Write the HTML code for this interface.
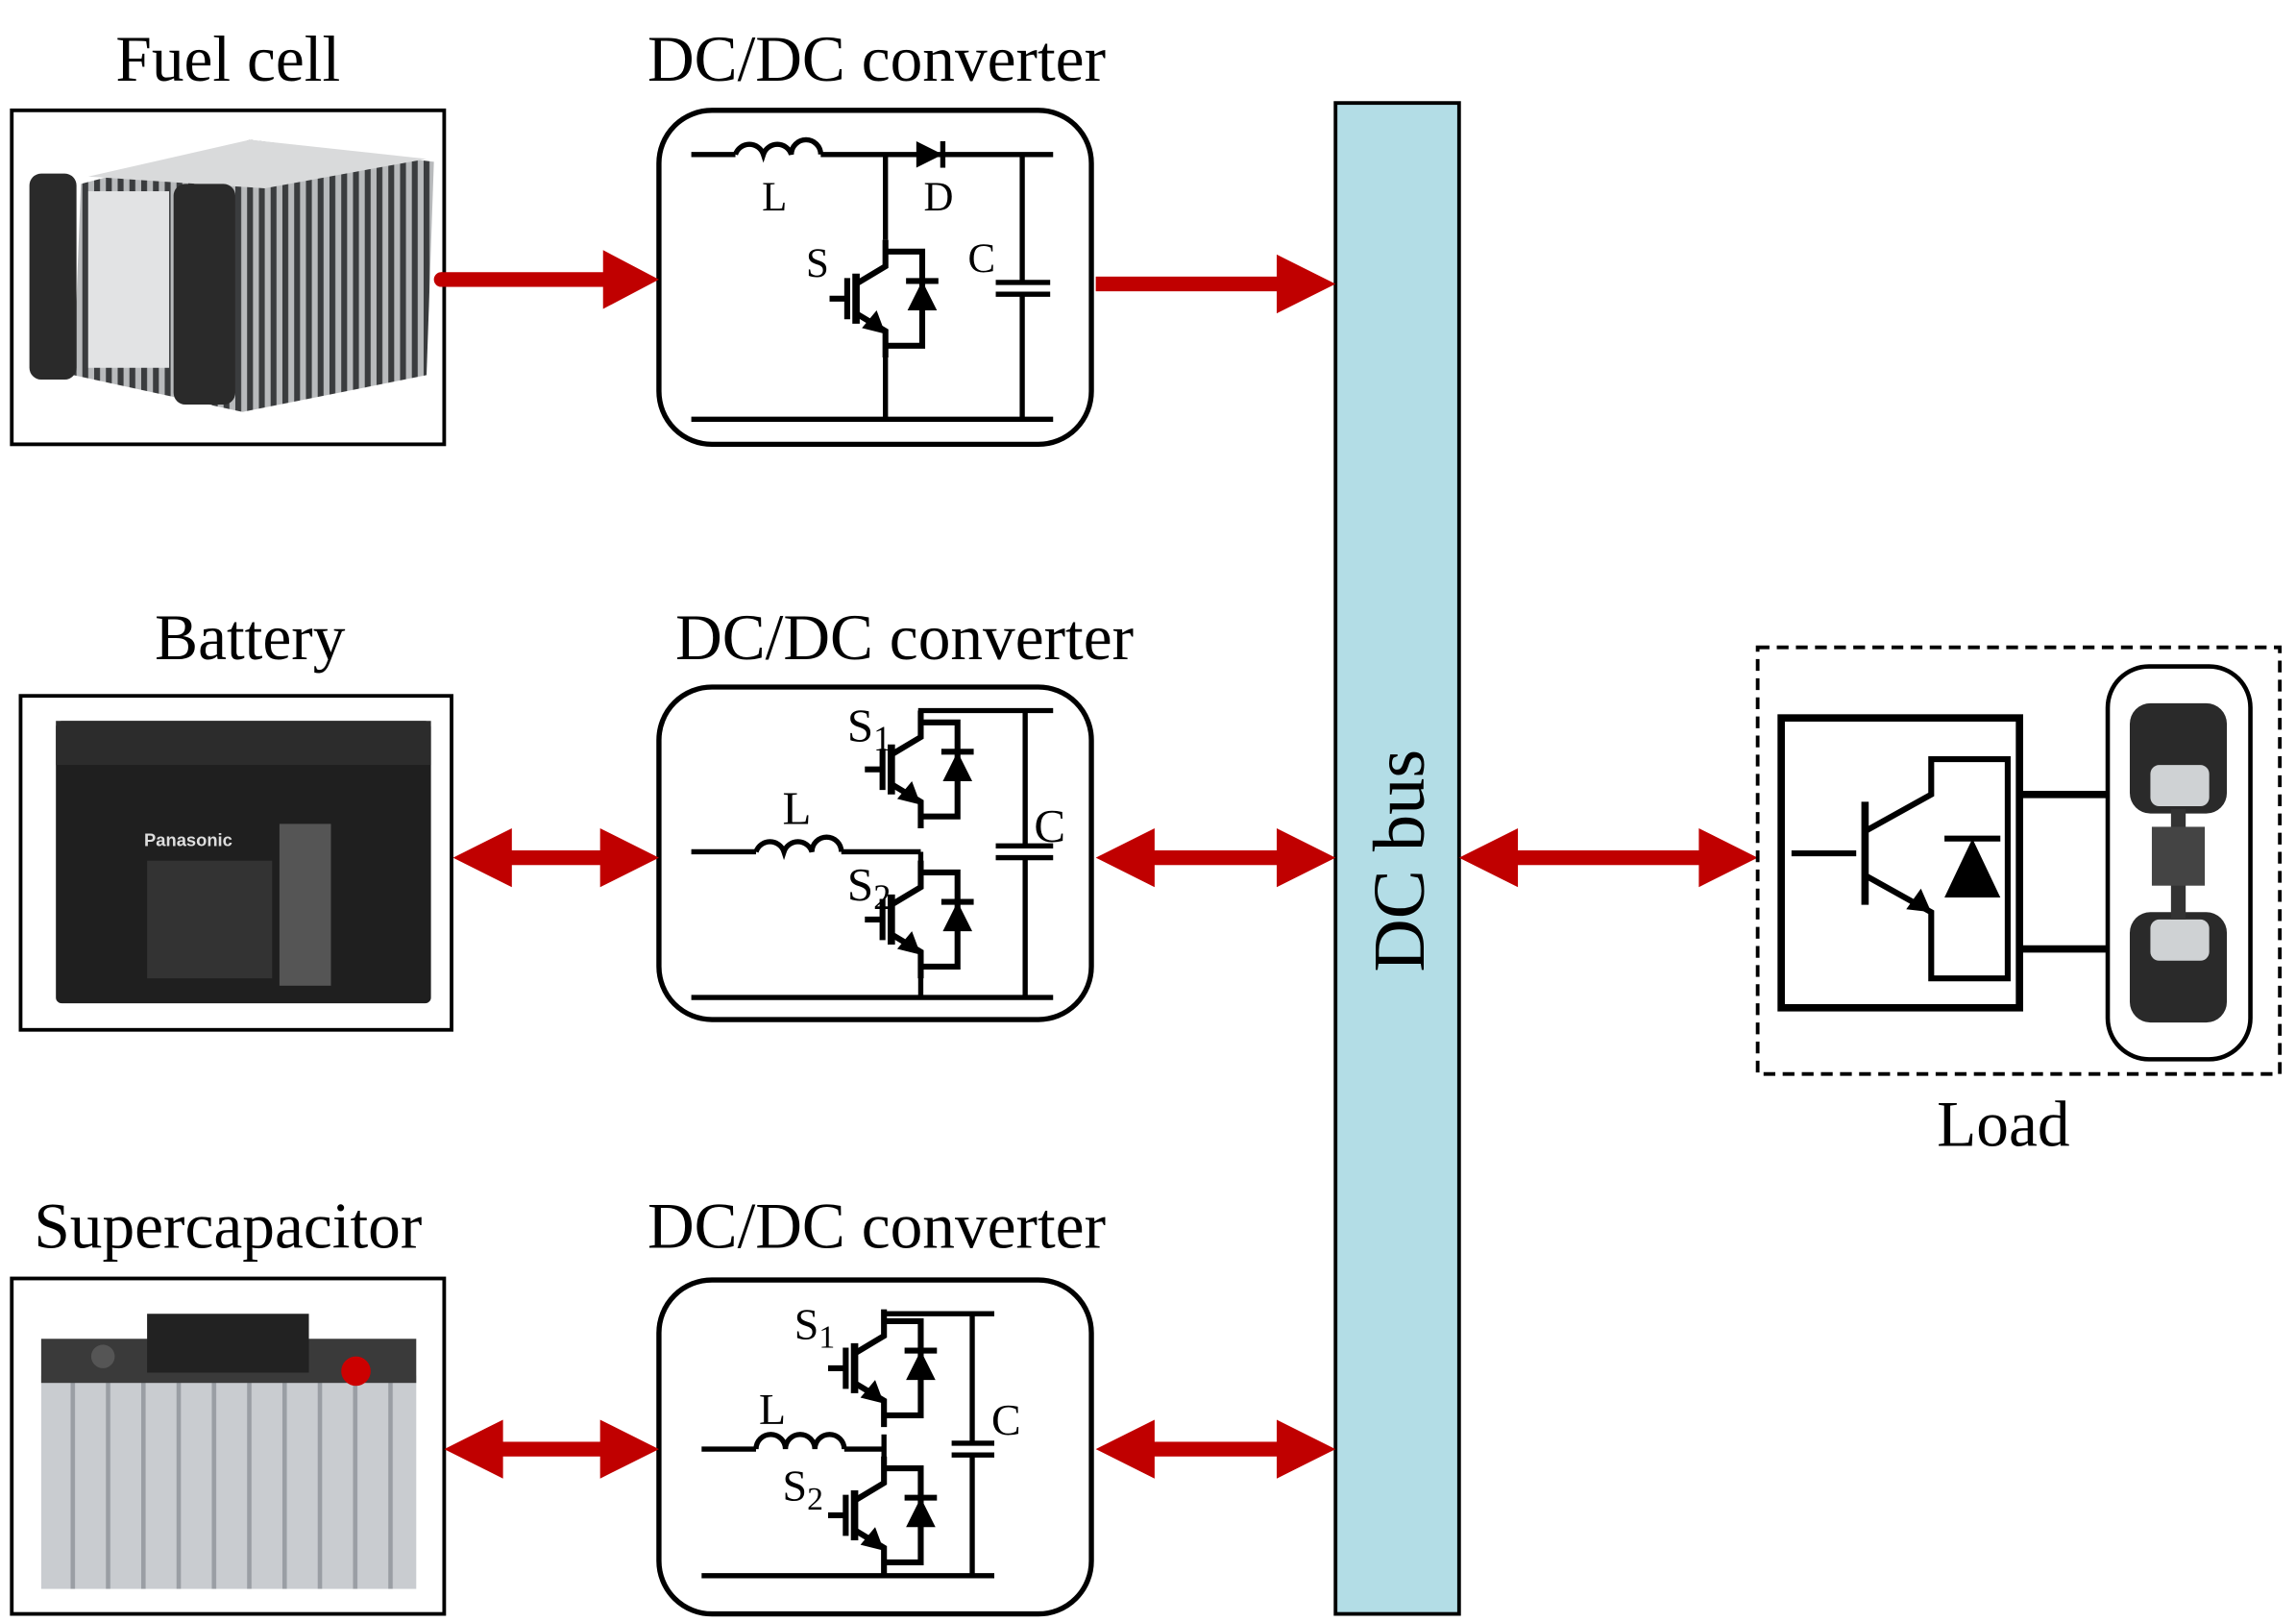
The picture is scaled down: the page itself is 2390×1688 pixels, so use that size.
<!DOCTYPE html>
<html><head><meta charset="utf-8"><style>
html,body{margin:0;padding:0;background:#fff}
svg{display:block}
text{font-family:"Liberation Serif",serif;fill:#000}
</style></head><body>
<svg width="2390" height="1688" viewBox="0 0 1561 1102.5" preserveAspectRatio="none" xmlns="http://www.w3.org/2000/svg">
<defs>
<g id="igbt" stroke="#000" stroke-width="4" fill="none">
<polyline points="0,-40 0,-22 -20,-10"/>
<line x1="-20" y1="-17" x2="-20" y2="17" stroke-width="5"/>
<line x1="-26" y1="-14" x2="-26" y2="14" stroke-width="4"/>
<line x1="-38" y1="0" x2="-26" y2="0"/>
<polyline points="-20,10 0,22 0,40"/>
<polygon points="0,24 -16,20 -6,8" fill="#000" stroke="none"/>
<polyline points="0,-32 25,-32 25,32 0,32"/>
<polygon points="25,-12 15,8 35,8" fill="#000" stroke="none"/>
<line x1="14" y1="-12" x2="36" y2="-12"/>
</g>
<pattern id="stripes" width="8" height="300" patternUnits="userSpaceOnUse">
<rect width="8" height="300" fill="#b8babc"/><rect width="4" height="300" fill="#3a3c3e"/>
</pattern>
<pattern id="vstr" width="24" height="200" patternUnits="userSpaceOnUse">
<rect width="24" height="200" fill="#c9ccd0"/><rect width="3" height="200" fill="#9a9ea4"/>
</pattern>
</defs>

<g font-size="44">
<text x="155" y="55" text-anchor="middle">Fuel cell</text>
<text x="596" y="55" text-anchor="middle">DC/DC converter</text>
<text x="170" y="448" text-anchor="middle">Battery</text>
<text x="615" y="448" text-anchor="middle">DC/DC converter</text>
<text x="155" y="848" text-anchor="middle">Supercapacitor</text>
<text x="596" y="848" text-anchor="middle">DC/DC converter</text>
<text x="1362" y="779" text-anchor="middle">Load</text>
</g>

<!-- fuel cell photo -->
<rect x="8" y="75" width="294" height="227" fill="#fff" stroke="#000" stroke-width="2.5"/>
<polygon points="55,125 170,95 295,110 290,255 165,280 50,255" fill="url(#stripes)"/>
<polygon points="60,120 170,95 290,108 180,128" fill="#d9dadb"/>
<rect x="20" y="118" width="32" height="140" rx="8" fill="#2a2a2a"/>
<rect x="118" y="125" width="42" height="150" rx="8" fill="#2a2a2a"/>
<rect x="60" y="130" width="55" height="120" fill="#e2e3e4"/>

<!-- battery -->
<rect x="14" y="473" width="293" height="227" fill="#fff" stroke="#000" stroke-width="2.5"/>
<rect x="38" y="490" width="255" height="192" rx="4" fill="#1f1f1f"/>
<rect x="38" y="490" width="255" height="30" fill="#2c2c2c"/>
<text x="98" y="575" font-size="12" style="fill:#ddd;font-family:'Liberation Sans',sans-serif;font-weight:bold">Panasonic</text>
<rect x="190" y="560" width="35" height="110" fill="#555"/>
<rect x="100" y="585" width="85" height="80" fill="#333"/>

<!-- supercapacitor -->
<rect x="8" y="869" width="294" height="228" fill="#fff" stroke="#000" stroke-width="2.5"/>
<rect x="28" y="935" width="255" height="145" fill="url(#vstr)"/>
<rect x="28" y="910" width="255" height="30" fill="#3a3a3a"/>
<rect x="100" y="893" width="110" height="40" fill="#222"/>
<circle cx="242" cy="932" r="10" fill="#c00"/>
<circle cx="70" cy="922" r="8" fill="#555"/>

<g fill="none" stroke="#000" stroke-width="3.5">
<rect x="448" y="75" width="294" height="227" rx="36"/>
<rect x="448" y="467" width="294" height="226" rx="36"/>
<rect x="448" y="870" width="294" height="227" rx="36"/>
</g>

<!-- converter 1 -->
<g stroke="#000" stroke-width="3.5" fill="none">
<line x1="470" y1="105" x2="500" y2="105"/>
<path d="M500,105 a10,10 0 0 1 19,0 a10,10 0 0 1 19,0 a10,10 0 0 1 20,0"/>
<line x1="558" y1="105" x2="716" y2="105"/>
<line x1="470" y1="285" x2="716" y2="285"/>
<line x1="602" y1="105" x2="602" y2="163"/>
<line x1="602" y1="243" x2="602" y2="285"/>
<line x1="695" y1="105" x2="695" y2="192"/>
<line x1="695" y1="200" x2="695" y2="285"/>
<line x1="677" y1="192" x2="714" y2="192"/>
<line x1="677" y1="200" x2="714" y2="200"/>
<line x1="641" y1="96" x2="641" y2="114"/>
</g>
<polygon points="623,96 623,114 641,105" fill="#000"/>
<use href="#igbt" x="602" y="203"/>
<g font-size="28"><text x="518" y="143">L</text><text x="628" y="143">D</text><text x="548" y="188">S</text><text x="658" y="185">C</text></g>

<!-- converter 2 -->
<g stroke="#000" stroke-width="3.5" fill="none">
<polyline points="716,483 626,483 626,499"/>
<line x1="626" y1="579" x2="626" y2="600"/>
<line x1="626" y1="658" x2="626" y2="678"/>
<line x1="470" y1="678" x2="716" y2="678"/>
<line x1="470" y1="579" x2="514" y2="579"/>
<path d="M514,579 a10,10 0 0 1 19,0 a10,10 0 0 1 19,0 a10,10 0 0 1 20,0"/>
<line x1="572" y1="579" x2="626" y2="579"/>
<line x1="697" y1="483" x2="697" y2="575"/>
<line x1="697" y1="583" x2="697" y2="678"/>
<line x1="677" y1="575" x2="716" y2="575"/>
<line x1="677" y1="583" x2="716" y2="583"/>
</g>
<use href="#igbt" x="626" y="523"/>
<use href="#igbt" x="626" y="625"/>
<g font-size="32"><text x="576" y="504">S<tspan font-size="24" dy="6">1</tspan></text><text x="532" y="560">L</text><text x="576" y="612">S<tspan font-size="24" dy="6">2</tspan></text><text x="703" y="572">C</text></g>

<!-- converter 3 -->
<g stroke="#000" stroke-width="3.5" fill="none">
<polyline points="676,893 601,893 601,900"/>
<line x1="601" y1="975" x2="601" y2="995"/>
<line x1="601" y1="1060" x2="601" y2="1071"/>
<line x1="477" y1="1071" x2="676" y2="1071"/>
<line x1="477" y1="985" x2="514" y2="985"/>
<path d="M514,985 a10,10 0 0 1 20,0 a10,10 0 0 1 20,0 a10,10 0 0 1 20,0"/>
<line x1="574" y1="985" x2="601" y2="985"/>
<line x1="661" y1="893" x2="661" y2="981"/>
<line x1="661" y1="989" x2="661" y2="1071"/>
<line x1="647" y1="981" x2="676" y2="981"/>
<line x1="647" y1="989" x2="676" y2="989"/>
</g>
<use href="#igbt" x="601" y="930"/>
<use href="#igbt" x="601" y="1030"/>
<g font-size="30"><text x="540" y="910">S<tspan font-size="22" dy="6">1</tspan></text><text x="516" y="968">L</text><text x="532" y="1020">S<tspan font-size="22" dy="6">2</tspan></text><text x="674" y="975">C</text></g>

<!-- DC bus -->
<rect x="908" y="70" width="84" height="1027" fill="#b3dde6" stroke="#000" stroke-width="2.5"/>
<text x="968" y="585" font-size="50" text-anchor="middle" transform="rotate(-90 968 585)">DC bus</text>

<g fill="#c00000">
<circle cx="300" cy="190" r="5"/>
<rect x="300" y="185" width="115" height="10"/>
<polygon points="410,170 448,190 410,210"/>
<rect x="745" y="188" width="130" height="10"/>
<polygon points="868,173 908,193 868,213"/>
<rect x="340" y="578" width="76" height="10"/><polygon points="308,583 348,563 348,603"/><polygon points="448,583 408,563 408,603"/>
<rect x="777" y="578" width="100" height="10"/><polygon points="745,583 785,563 785,603"/><polygon points="908,583 868,563 868,603"/>
<rect x="1024" y="578" width="140" height="10"/><polygon points="992,583 1032,563 1032,603"/><polygon points="1195,583 1155,563 1155,603"/>
<rect x="334" y="980" width="82" height="10"/><polygon points="302,985 342,965 342,1005"/><polygon points="448,985 408,965 408,1005"/>
<rect x="777" y="980" width="100" height="10"/><polygon points="745,985 785,965 785,1005"/><polygon points="908,985 868,965 868,1005"/>
</g>

<!-- Load -->
<rect x="1195" y="440" width="355" height="290" fill="none" stroke="#000" stroke-width="2.5" stroke-dasharray="8,5"/>
<rect x="1211" y="488" width="162" height="197" fill="none" stroke="#000" stroke-width="5"/>
<g stroke="#000" stroke-width="4" fill="none">
<line x1="1218" y1="580" x2="1262" y2="580"/>
<line x1="1268" y1="545" x2="1268" y2="615" stroke-width="5"/>
<polyline points="1268,565 1313,540 1313,516 1365,516 1365,665 1313,665 1313,620 1268,595"/>
<line x1="1373" y1="540" x2="1433" y2="540" stroke-width="5"/>
<line x1="1373" y1="645" x2="1433" y2="645" stroke-width="5"/>
<line x1="1322" y1="570" x2="1360" y2="570"/>
</g>
<polygon points="1341,570 1322,610 1360,610" fill="#000"/>
<polygon points="1313,620 1296,618 1306,604" fill="#000"/>
<rect x="1433" y="453" width="97" height="267" rx="28" fill="none" stroke="#000" stroke-width="3"/>
<rect x="1448" y="478" width="66" height="75" rx="14" fill="#2a2a2a"/>
<rect x="1448" y="620" width="66" height="75" rx="14" fill="#2a2a2a"/>
<rect x="1462" y="520" width="40" height="28" rx="6" fill="#cfd2d4"/>
<rect x="1462" y="625" width="40" height="28" rx="6" fill="#cfd2d4"/>
<rect x="1476" y="550" width="10" height="75" fill="#333"/>
<rect x="1463" y="562" width="36" height="40" fill="#444"/>
</svg>
</body></html>
